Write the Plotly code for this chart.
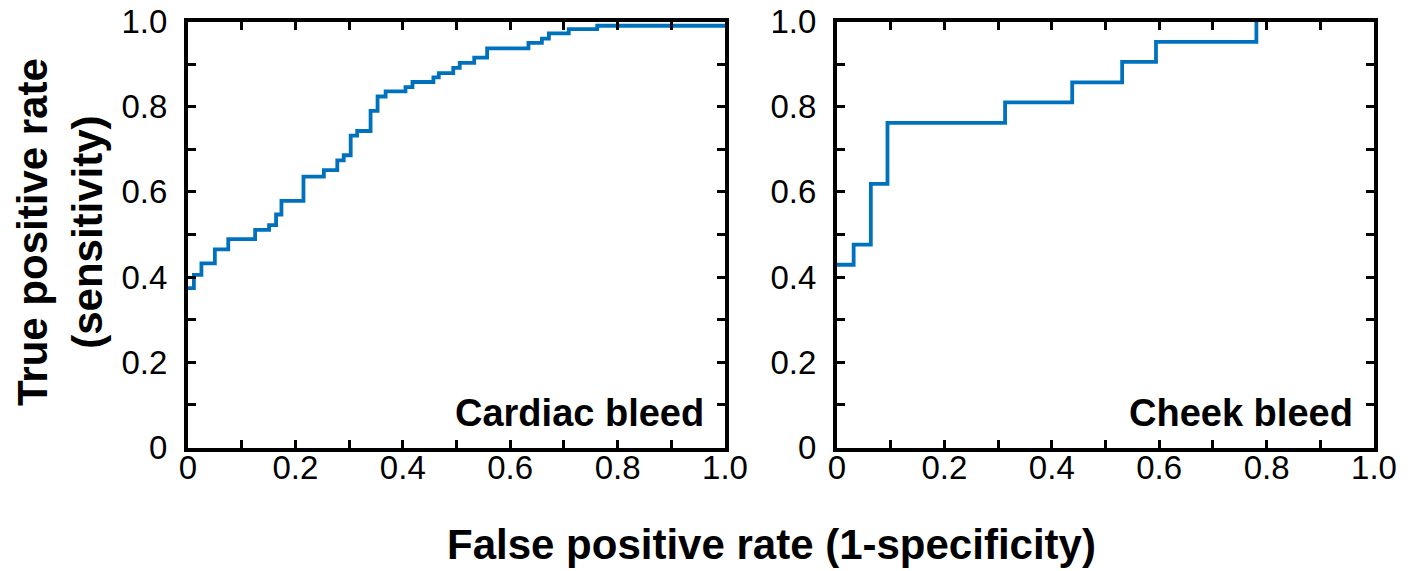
import plotly.graph_objects as go

# Cardiac bleed ROC (step curve)
fpr_cardiac = [0, 0.011, 0.025, 0.050, 0.075, 0.125, 0.151, 0.164, 0.174, 0.215,
               0.253, 0.278, 0.290, 0.303, 0.315, 0.340, 0.353, 0.368, 0.405, 0.418,
               0.457, 0.467, 0.494, 0.506, 0.533, 0.557, 0.634, 0.659, 0.672, 0.709,
               0.762, 1.0]
tpr_cardiac = [0.374, 0.405, 0.432, 0.465, 0.489, 0.511, 0.522, 0.547, 0.579, 0.636,
               0.651, 0.674, 0.686, 0.732, 0.743, 0.790, 0.824, 0.836, 0.846, 0.858,
               0.869, 0.879, 0.891, 0.903, 0.915, 0.937, 0.950, 0.960, 0.972, 0.982,
               0.990, 0.990]

# Cheek bleed ROC (step curve)
fpr_cheek = [0, 0.031, 0.063, 0.094, 0.313, 0.438, 0.531, 0.594, 0.781]
tpr_cheek = [0.429, 0.476, 0.619, 0.762, 0.810, 0.857, 0.905, 0.952, 1.0]

tick_vals = [0, 0.1, 0.2, 0.3, 0.4, 0.5, 0.6, 0.7, 0.8, 0.9, 1.0]
tick_text = ["0", "", "0.2", "", "0.4", "", "0.6", "", "0.8", "", "1.0"]

panel_labels = ["Cardiac bleed", "Cheek bleed"]
x_title = "False positive rate (1-specificity)"
y_title = "True positive rate<br>(sensitivity)"

W, H = 1419, 571


def px(p):
    return p / W


def py(p):
    return 1 - p / H


LINE = "#0072BD"
FONT = "Liberation Sans, Arial, Helvetica, sans-serif"

fig = go.Figure()
fig.add_trace(go.Scatter(x=fpr_cardiac, y=tpr_cardiac, mode="lines",
                         line=dict(color=LINE, width=3.8, shape="hv"),
                         xaxis="x", yaxis="y", showlegend=False))
fig.add_trace(go.Scatter(x=fpr_cheek, y=tpr_cheek, mode="lines",
                         line=dict(color=LINE, width=3.8, shape="hv"),
                         xaxis="x2", yaxis="y2", showlegend=False))

ydom = [py(447.5), py(21.5)]
axis_common = dict(
    range=[0, 1], tickvals=tick_vals, ticktext=tick_text,
    showline=True, linecolor="black", linewidth=4, mirror="ticks",
    ticks="inside", ticklen=8, tickwidth=3, tickcolor="black",
    showgrid=False, zeroline=False, automargin=False,
    ticklabeloverflow="allow",
    tickfont=dict(family=FONT, size=33, color="black"),
    fixedrange=True,
)

fig.update_layout(
    template="none",
    width=W, height=H,
    margin=dict(l=0, r=0, t=0, b=0, pad=0),
    paper_bgcolor="white", plot_bgcolor="white",
    xaxis=dict(domain=[px(188), px(725)], anchor="y", ticklabelstandoff=-12, **axis_common),
    yaxis=dict(domain=ydom, anchor="x", ticklabelstandoff=10, **axis_common),
    xaxis2=dict(domain=[px(837), px(1374)], anchor="y2", ticklabelstandoff=-12, **axis_common),
    yaxis2=dict(domain=ydom, anchor="x2", ticklabelstandoff=10, **axis_common),
)

fig.add_annotation(text=f"<b>{panel_labels[0]}</b>", xref="x", yref="y",
                   x=0.965, y=0.08, xanchor="right", yanchor="middle", showarrow=False,
                   font=dict(family=FONT, size=38, color="black"))
fig.add_annotation(text=f"<b>{panel_labels[1]}</b>", xref="x2", yref="y2",
                   x=0.965, y=0.08, xanchor="right", yanchor="middle", showarrow=False,
                   font=dict(family=FONT, size=38, color="black"))
fig.add_annotation(text=f"<b>{x_title}</b>", xref="paper", yref="paper",
                   x=px(771), y=py(544), xanchor="center", yanchor="middle",
                   showarrow=False, font=dict(family=FONT, size=42, color="black"))
fig.add_annotation(text=f"<b>{y_title}</b>", xref="paper", yref="paper",
                   x=px(60), y=py(232), xanchor="center", yanchor="middle",
                   textangle=-90, showarrow=False,
                   font=dict(family=FONT, size=42, color="black"))

fig.write_html(
    "out.html",
    config={"displayModeBar": False},
    post_script="document.body.style.margin='0';document.body.style.overflow='hidden';",
)
